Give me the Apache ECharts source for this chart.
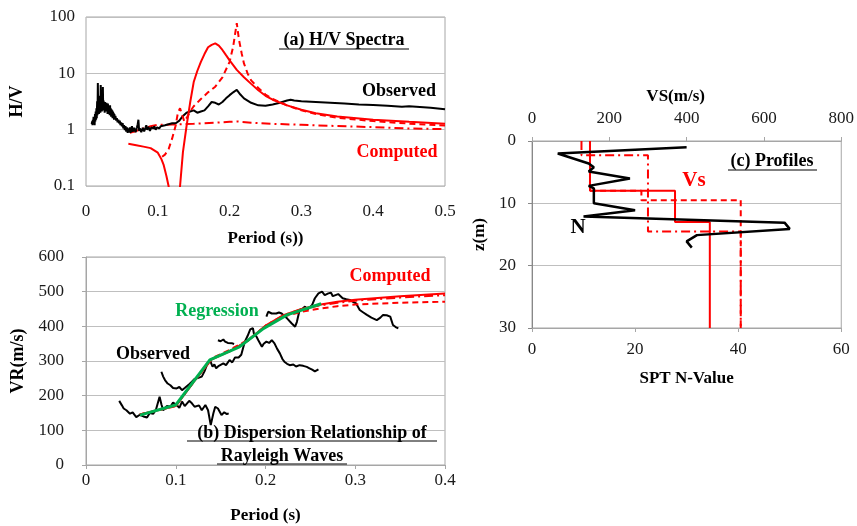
<!DOCTYPE html>
<html>
<head>
<meta charset="utf-8">
<script src="https://cdn.jsdelivr.net/npm/echarts@6/dist/echarts.min.js"></script>
<style>
  html, body { margin: 0; padding: 0; background: #fff; }
  #chart { width: 857px; height: 526px; }
</style>
</head>
<body>
<div id="chart"></div>
<script>
// ---------- (a) H/V spectra ----------
// observed H/V ratio: [period (s), H/V]
const hvObs = [
  [0.0080,1.25],[0.0085,1.4],[0.0090,1.2],[0.0095,1.5],[0.0100,1.3],[0.0105,1.7],[0.0110,1.35],[0.0115,1.6],
  [0.0120,1.2],[0.0125,1.9],[0.0130,1.4],[0.0135,2.1],[0.0140,1.5],[0.0145,2.4],[0.0150,1.6],[0.0155,3.2],
  [0.0160,1.8],[0.0165,6.7],[0.0170,2.0],[0.0175,4.0],[0.0180,1.9],[0.0185,2.8],[0.0190,2.2],[0.0195,3.4],
  [0.0200,2.0],[0.0205,6.2],[0.0210,2.4],[0.0215,3.6],[0.0220,2.1],[0.0225,3.0],[0.0230,2.3],[0.0235,5.7],
  [0.0240,2.2],[0.0245,3.3],[0.0250,2.5],[0.0255,2.9],[0.0260,2.0],[0.0265,3.1],[0.0270,2.4],[0.0275,2.8],
  [0.0280,2.1],[0.0285,3.0],[0.0290,2.3],[0.0295,2.7],[0.0300,1.9],[0.0305,2.9],[0.0310,2.2],[0.0315,2.6],
  [0.0320,1.9],[0.0325,2.5],[0.0330,1.8],[0.0335,2.7],[0.0340,2.0],[0.0345,2.4],[0.0350,1.7],[0.0355,2.3],
  [0.0360,1.8],[0.0365,2.2],[0.0370,1.6],[0.0375,2.1],[0.0380,1.7],[0.0385,2.0],[0.0390,1.5],[0.0395,1.9],
  [0.0400,1.6],[0.0410,1.75],[0.0420,1.45],[0.0430,1.6],[0.0440,1.35],[0.0450,1.5],[0.0460,1.3],[0.0470,1.45],
  [0.0480,1.2],[0.0490,1.35],[0.0500,1.15],[0.0510,1.3],[0.0520,1.05],[0.0530,1.2],[0.0540,0.98],[0.0550,1.15],
  [0.0560,0.92],[0.0570,1.1],[0.0580,0.88],[0.0590,1.05],[0.0600,0.9],[0.0610,1.1],[0.0620,0.88],[0.0630,1.05],
  [0.0640,1.15],[0.0650,0.92],[0.0660,0.95],[0.0670,1.08],[0.0680,1.1],[0.0690,0.9],[0.0700,0.9],[0.0710,1.1],
  [0.0720,1.25],[0.0730,1.5],[0.0740,0.95],[0.0750,1.05],[0.0760,1.1],[0.0770,0.9],[0.0780,0.92],[0.0790,1.08],
  [0.0800,1.15],[0.0810,0.93],[0.0820,0.95],[0.0830,1.1],[0.0840,1.2],[0.0850,1.0],[0.0860,1.0],[0.0870,1.12],
  [0.0880,1.1],[0.0890,0.95],[0.0900,0.98],[0.0910,1.1],[0.0920,1.15],[0.0930,1.02],[0.0940,1.05],[0.0950,1.15],
  [0.0960,1.12],[0.0970,1.0],[0.0980,1.0],[0.0990,1.1],[0.1000,1.1],[0.1020,1.05],[0.1040,1.15],[0.1060,1.1],
  [0.110,1.2],[0.115,1.25],[0.120,1.3],[0.125,1.3],[0.130,1.45],[0.135,1.75],[0.140,2.0],[0.145,2.1],
  [0.150,2.2],[0.155,2.0],[0.160,2.1],[0.165,2.2],[0.170,2.6],[0.175,3.1],[0.180,3.0],[0.185,2.8],
  [0.190,3.1],[0.195,3.6],[0.200,4.1],[0.205,4.6],[0.210,5.1],[0.215,4.2],[0.220,3.6],[0.230,3.0],
  [0.240,2.7],[0.250,2.65],[0.260,2.8],[0.270,3.0],[0.280,3.3],[0.285,3.4],[0.290,3.3],[0.300,3.2],
  [0.320,3.1],[0.340,3.0],[0.360,2.9],[0.380,2.8],[0.400,2.75],[0.420,2.65],[0.440,2.55],[0.450,2.6],
  [0.460,2.55],[0.480,2.45],[0.500,2.3]
];

const hvSolidT = [0.059,0.07,0.08,0.09,0.1,0.105,0.108,0.112,0.115,0.118,0.129,0.131,0.135,0.14,0.145,0.15,0.155,0.16,0.165,0.17,0.175,0.18,0.185,0.19,0.195,0.2,0.205,0.21,0.22,0.23,0.24,0.25,0.26,0.28,0.3,0.32,0.35,0.4,0.45,0.5];
const hvSolid = [0.56,0.53,0.5,0.47,0.39,0.3,0.24,0.15,0.1,0.05,0.05,0.1,0.4,1.15,3.0,7,11,16,22,29,32,34,31,26,21,17,14,11.5,8.5,6.5,5.0,4.0,3.4,2.7,2.25,1.95,1.72,1.5,1.38,1.28];

const hvDashT = [0.106,0.11,0.115,0.12,0.125,0.128,0.131,0.134,0.137,0.14,0.145,0.15,0.16,0.17,0.18,0.19,0.2,0.205,0.21,0.213,0.217,0.22,0.225,0.23,0.24,0.25,0.26,0.28,0.3,0.32,0.35,0.4,0.45,0.5];
const hvDash = [0.33,0.36,0.45,0.7,1.2,2.0,2.4,1.8,1.4,1.6,2.1,2.6,3.5,4.6,5.8,8.5,16,30,78,40,22,15,10,7.5,5.5,4.2,3.5,2.7,2.2,1.9,1.62,1.42,1.28,1.18];

const hvDashDotT = [0.061,0.07,0.08,0.09,0.1,0.12,0.15,0.18,0.2,0.21,0.23,0.26,0.3,0.35,0.4,0.45,0.5];
const hvDashDot = [0.88,0.95,1.05,1.15,1.22,1.23,1.27,1.33,1.38,1.4,1.33,1.27,1.22,1.16,1.11,1.05,1.02];

// ---------- (b) Rayleigh wave dispersion ----------
const vrObsA = [[0.037,185],[0.040,172],[0.042,163],[0.045,158],[0.049,148],[0.052,152],[0.056,138],[0.060,145],[0.064,140],[0.068,137],[0.071,150],[0.075,148],[0.078,160],[0.082,197],[0.084,175],[0.086,158],[0.090,170],[0.094,168],[0.097,180],[0.101,173],[0.104,165],[0.107,183],[0.110,170],[0.112,173],[0.115,185],[0.118,178],[0.121,168],[0.123,163],[0.126,172],[0.129,158],[0.133,173],[0.136,158],[0.139,115],[0.142,150],[0.144,168],[0.147,163],[0.151,144],[0.154,152],[0.157,147],[0.159,149]];
const vrObsB = [[0.084,269],[0.086,255],[0.088,245],[0.091,235],[0.094,230],[0.097,222],[0.101,221],[0.104,225],[0.107,216],[0.110,222],[0.112,226],[0.115,233],[0.118,240],[0.121,248],[0.123,245],[0.126,252],[0.129,255],[0.132,270],[0.134,284],[0.136,295],[0.138,303],[0.140,290],[0.141,284],[0.143,290],[0.145,279],[0.148,286],[0.150,283],[0.153,293],[0.156,288],[0.160,303],[0.163,296],[0.166,310],[0.168,312],[0.170,310],[0.173,318],[0.175,315],[0.177,356],[0.180,372],[0.183,391],[0.186,395],[0.187,380],[0.190,370],[0.192,360],[0.196,341],[0.198,350],[0.201,356],[0.204,352],[0.207,360],[0.210,351],[0.213,335],[0.216,322],[0.219,305],[0.221,298],[0.224,292],[0.227,288],[0.231,290],[0.234,284],[0.238,288],[0.242,286],[0.246,283],[0.249,279],[0.252,275],[0.255,270],[0.259,276]];
const vrObsC = [[0.147,360],[0.150,357],[0.153,362],[0.155,356],[0.158,352],[0.160,357],[0.163,351],[0.165,349]];
const vrObsD = [[0.201,428],[0.203,442],[0.207,437],[0.212,437],[0.215,440],[0.218,437],[0.221,430],[0.224,423],[0.229,409],[0.233,399],[0.235,413],[0.238,447],[0.241,450],[0.244,457],[0.247,449],[0.249,452],[0.252,462],[0.255,481],[0.259,495],[0.263,500],[0.266,490],[0.270,495],[0.273,497],[0.275,487],[0.278,490],[0.281,493],[0.286,481],[0.290,478],[0.294,476],[0.298,470],[0.301,466],[0.305,447],[0.309,440],[0.313,433],[0.318,425],[0.324,418],[0.328,425],[0.331,433],[0.335,432],[0.339,428],[0.342,404],[0.345,398],[0.348,394]];

const vrCompT = [0.06,0.08,0.1,0.12,0.14,0.16,0.18,0.2,0.22,0.24,0.26,0.28,0.3,0.35,0.4];
const vrSolid = [146,158,170,240,305,328,358,402,432,450,462,471,477,487,495];
const vrDash = [146,158,170,240,308,332,360,400,428,442,451,458,463,468,471];
const vrDashDot = [146,158,170,240,305,328,358,402,432,449,460,468,474,483,490];

const vrRegT = [0.06,0.1,0.138,0.171,0.198,0.224,0.262];
const vrReg = [144,173,303,341,394,433,465];

// ---------- (c) profiles ----------
const sptDepth = [1,2,3.6,4.2,4.9,6,7.2,7.6,8.7,10,11.1,12.1,13.1,14.1,15.1,16.1,17.1];
const sptN = [30,5,11,12,11,19,11,12,12,12,20,10,49,50,32,30,31];

const profileBottom = 30;
const vsSolidTop = [0,8,13];
const vsSolid = [150,370,460];
const vsDashTop = [0,8,9.5];
const vsDash = [150,283,540];
const vsDashDotTop = [0,2.3,14.5];
const vsDashDot = [128,300,540];

// ---------- helpers ----------
const zip = (xs, ys) => xs.map((x, i) => [x, ys[i]]);
function layerSteps(tops, vals, bottom) {
  const pts = [];
  vals.forEach((v, i) => {
    const z0 = tops[i];
    const z1 = i + 1 < tops.length ? tops[i + 1] : bottom;
    pts.push([v, z0], [v, z1]);
  });
  return pts;
}

const SERIF = "'Liberation Serif', 'Times New Roman', serif";
const RED = '#ff0000';
const GREEN = '#00b050';
const GRID_GRAY = '#bfbfbf';
const BORDER_GRAY = '#a6a6a6';
const DASH = [6, 4];
const DASHDOT = [9, 4, 2, 4];

const tickLabel = { fontFamily: SERIF, fontSize: 17, color: '#1a1a1a' };
const axisTitle = { fontFamily: SERIF, fontSize: 17, fontWeight: 'bold', color: '#000' };

function line(xi, yi, data, color, width, type, z) {
  return {
    type: 'line', xAxisIndex: xi, yAxisIndex: yi, data: data,
    showSymbol: false, symbol: 'none', clip: true, z: z || 2,
    lineStyle: { color: color, width: width, type: type || 'solid' },
    animation: false
  };
}

function label(x, y, text, color, size, underline) {
  const els = [{
    type: 'text', x: x, y: y, z: 10,
    style: { text: text, fill: color, font: 'bold ' + size + 'px ' + SERIF, align: 'center', verticalAlign: 'middle' }
  }];
  if (underline) {
    els.push({ type: 'line', z: 10, shape: { x1: underline[0], y1: underline[2], x2: underline[1], y2: underline[2] },
      style: { stroke: '#000', lineWidth: 1 } });
  }
  return els;
}

const chart = echarts.init(document.getElementById('chart'), null, { renderer: 'canvas' });

const option = {
  animation: false,
  backgroundColor: '#fff',
  grid: [
    { left: 86, top: 17, width: 359, height: 169, show: true, borderColor: BORDER_GRAY, borderWidth: 1, backgroundColor: 'transparent' },
    { left: 86, top: 257, width: 359, height: 208, show: true, borderColor: BORDER_GRAY, borderWidth: 1, backgroundColor: 'transparent' },
    { left: 532, top: 141, width: 311, height: 187, show: true, borderColor: BORDER_GRAY, borderWidth: 1, backgroundColor: 'transparent' }
  ],
  xAxis: [
    { gridIndex: 0, type: 'value', min: 0, max: 0.5, interval: 0.1,
      name: 'Period (s))', nameLocation: 'middle', nameGap: 44, nameTextStyle: axisTitle,
      axisLine: { show: false }, axisTick: { show: false }, splitLine: { show: false },
      axisLabel: Object.assign({ margin: 17 }, tickLabel) },
    { gridIndex: 1, type: 'value', min: 0, max: 0.4, interval: 0.1,
      name: 'Period (s)', nameLocation: 'middle', nameGap: 42, nameTextStyle: axisTitle,
      axisLine: { show: true, lineStyle: { color: BORDER_GRAY } },
      axisTick: { show: true, length: 4, lineStyle: { color: BORDER_GRAY } }, splitLine: { show: false },
      axisLabel: Object.assign({ margin: 7 }, tickLabel) },
    { gridIndex: 2, type: 'value', position: 'top', min: 0, max: 800, interval: 200,
      name: 'VS(m/s)', nameLocation: 'middle', nameGap: 36, nameTextStyle: Object.assign({ padding: [0, 22, 0, 0] }, axisTitle),
      axisLine: { show: true, lineStyle: { color: BORDER_GRAY } },
      axisTick: { show: true, length: 4, lineStyle: { color: BORDER_GRAY } }, splitLine: { show: false },
      axisLabel: Object.assign({ margin: 14 }, tickLabel) },
    { gridIndex: 2, type: 'value', position: 'bottom', min: 0, max: 60, interval: 20,
      name: 'SPT N-Value', nameLocation: 'middle', nameGap: 42, nameTextStyle: axisTitle,
      axisLine: { show: true, lineStyle: { color: BORDER_GRAY } },
      axisTick: { show: true, length: 4, lineStyle: { color: BORDER_GRAY } }, splitLine: { show: false },
      axisLabel: Object.assign({ margin: 13 }, tickLabel) }
  ],
  yAxis: [
    { gridIndex: 0, type: 'log', logBase: 10, min: 0.1, max: 100,
      name: 'H/V', nameLocation: 'middle', nameGap: 60, nameRotate: 90, nameTextStyle: Object.assign({}, axisTitle, { fontSize: 18 }),
      axisLine: { show: false }, axisTick: { show: false },
      splitLine: { show: true, lineStyle: { color: GRID_GRAY } },
      axisLabel: Object.assign({ margin: 11 }, tickLabel) },
    { gridIndex: 1, type: 'value', min: 0, max: 600, interval: 100,
      name: 'VR(m/s)', nameLocation: 'middle', nameGap: 59, nameRotate: 90, nameTextStyle: Object.assign({}, axisTitle, { fontSize: 18 }),
      axisLine: { show: true, lineStyle: { color: BORDER_GRAY } },
      axisTick: { show: true, length: 4, lineStyle: { color: BORDER_GRAY } },
      splitLine: { show: true, lineStyle: { color: GRID_GRAY } },
      axisLabel: Object.assign({ margin: 22 }, tickLabel) },
    { gridIndex: 2, type: 'value', inverse: true, min: 0, max: 30, interval: 10,
      name: 'z(m)', nameLocation: 'middle', nameGap: 44, nameRotate: 90, nameTextStyle: axisTitle,
      axisLine: { show: true, lineStyle: { color: '#888' } },
      axisTick: { show: true, length: 4, lineStyle: { color: '#888' } },
      splitLine: { show: true, lineStyle: { color: GRID_GRAY } },
      axisLabel: Object.assign({ margin: 16 }, tickLabel) }
  ],
  series: [
    // (a)
    line(0, 0, zip(hvDashDotT, hvDashDot), RED, 2, DASHDOT),
    line(0, 0, hvObs, '#000', 2, 'solid', 3),
    line(0, 0, zip(hvDashT, hvDash), RED, 2, DASH, 4),
    line(0, 0, zip(hvSolidT, hvSolid), RED, 2, 'solid', 4),
    // (b)
    line(1, 1, vrObsA, '#000', 2, 'solid', 2),
    line(1, 1, vrObsB, '#000', 2, 'solid', 2),
    line(1, 1, vrObsC, '#000', 2, 'solid', 2),
    line(1, 1, vrObsD, '#000', 2, 'solid', 2),
    line(1, 1, zip(vrCompT, vrDashDot), RED, 2, DASHDOT, 3),
    line(1, 1, zip(vrCompT, vrDash), RED, 2, DASH, 3),
    line(1, 1, zip(vrCompT, vrSolid), RED, 2, 'solid', 3),
    line(1, 1, zip(vrRegT, vrReg), GREEN, 3, 'solid', 4),
    // (c)
    line(2, 2, layerSteps(vsDashDotTop, vsDashDot, profileBottom), RED, 2, DASHDOT, 2),
    line(2, 2, layerSteps(vsDashTop, vsDash, profileBottom), RED, 2, DASH, 2),
    line(2, 2, layerSteps(vsSolidTop, vsSolid, profileBottom), RED, 2, 'solid', 3),
    line(3, 2, zip(sptN, sptDepth), '#000', 2.5, 'solid', 4)
  ],
  graphic: [].concat(
    label(344, 40, '(a) H/V Spectra', '#000', 18, [279, 409, 49]),
    label(399, 91, 'Observed', '#000', 18),
    label(397, 152, 'Computed', RED, 18),
    label(390, 276, 'Computed', RED, 18),
    label(217, 311, 'Regression', GREEN, 18),
    label(153, 354, 'Observed', '#000', 18),
    label(312, 433, '(b) Dispersion Relationship of', '#000', 18, [187, 437, 441]),
    label(282, 456, 'Rayleigh Waves', '#000', 18, [217, 347, 464]),
    label(772, 161, '(c) Profiles', '#000', 18, [728, 817, 170]),
    label(694, 181, 'Vs', RED, 21),
    label(578, 228, 'N', '#000', 21)
  )
};

chart.setOption(option);
</script>
</body>
</html>
